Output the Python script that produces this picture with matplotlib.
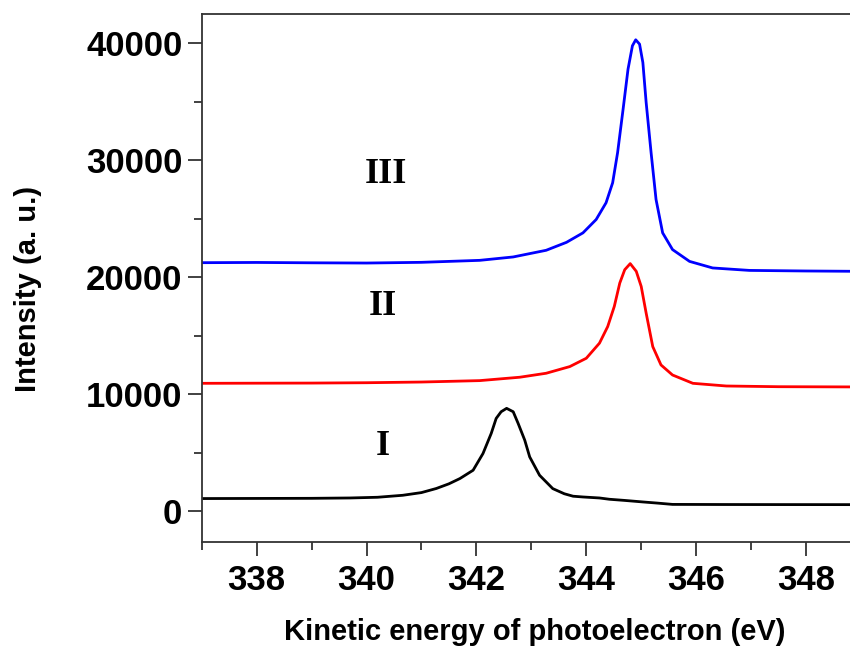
import numpy as np
import matplotlib.pyplot as plt
from matplotlib.ticker import MultipleLocator

# curve I (black)
x_1 = [337.0, 338.0, 339.0, 339.7, 340.2, 340.66, 341.0, 341.27, 341.5, 341.7, 341.94,
       342.12, 342.27, 342.36, 342.45, 342.55, 342.67, 342.76, 342.88, 342.97, 343.15,
       343.39, 343.6, 343.76, 343.94, 344.24, 344.42, 344.7, 345.03, 345.3, 345.57,
       346.5, 347.5, 349.0]
y_1 = [1090, 1100, 1110, 1140, 1200, 1370, 1600, 1950, 2350, 2800, 3510,
       4940, 6660, 7940, 8510, 8800, 8510, 7510, 6080, 4650, 3080,
       1940, 1500, 1290, 1225, 1140, 1030, 930, 800, 700, 590,
       580, 575, 570]

# curve II (red)
x_2 = [337.0, 338.0, 339.0, 340.0, 341.0, 342.06, 342.79, 343.27, 343.7, 344.0, 344.24,
       344.39, 344.51, 344.61, 344.7, 344.8, 344.91, 345.0, 345.09, 345.21, 345.36,
       345.57, 345.94, 346.55, 347.5, 349.0]
y_2 = [10940, 10950, 10960, 10990, 11050, 11170, 11460, 11800, 12370, 13080, 14370,
       15790, 17510, 19510, 20650, 21170, 20510, 19220, 16940, 14080, 12510,
       11650, 10940, 10710, 10650, 10630]

# curve III (blue)
x_3 = [337.0, 338.0, 339.0, 340.0, 341.0, 342.06, 342.67, 343.27, 343.64, 343.94, 344.18,
       344.36, 344.48, 344.57, 344.67, 344.76, 344.84, 344.9, 344.97, 345.03, 345.09,
       345.18, 345.27, 345.39, 345.57, 345.88, 346.3, 346.97, 348.0, 349.0]
y_3 = [21250, 21270, 21240, 21220, 21280, 21450, 21740, 22310, 22990, 23800, 24940,
       26370, 28080, 30650, 34360, 37790, 39790, 40300, 39930, 38360, 34940,
       30650, 26650, 23800, 22370, 21360, 20800, 20590, 20540, 20510]

labels = ["I", "II", "III"]
label_x = [340.3, 340.3, 340.35]
label_y = [4800, 16800, 28080]

sans = ["Liberation Sans", "DejaVu Sans"]
serif = ["Liberation Serif", "DejaVu Serif"]

fig = plt.figure(figsize=(8.5, 6.48), dpi=100)
ax = fig.add_axes([0.2373, 0.164, 0.7756, 0.8143])

ax.plot(x_1, y_1, color="black", lw=2)
ax.plot(x_2, y_2, color="red", lw=2)
ax.plot(x_3, y_3, color="blue", lw=2)

for t, tx, ty in zip(labels, label_x, label_y):
    ax.text(tx, ty, t, family=serif, fontweight="bold", fontsize=26,
            ha="center", va="baseline")

ax.set_xlim(337, 349)
ax.set_ylim(-2600, 42500)
ax.xaxis.set_major_locator(MultipleLocator(2))
ax.xaxis.set_minor_locator(MultipleLocator(1))
ax.yaxis.set_major_locator(MultipleLocator(10000))
ax.yaxis.set_minor_locator(MultipleLocator(5000))

for s in ax.spines.values():
    s.set_color("#333333")
    s.set_linewidth(1.3)
ax.spines["right"].set_visible(False)

ax.tick_params(which="major", direction="out", length=10, width=1.3, color="#333333")
ax.tick_params(which="minor", direction="out", length=6, width=1.3, color="#333333")
ax.tick_params(axis="x", pad=6)
ax.tick_params(axis="y", pad=4)
for lab in ax.get_xticklabels() + ax.get_yticklabels():
    lab.set_family(sans)
    lab.set_fontweight("bold")
    lab.set_fontsize(25)

ax.set_xlabel("Kinetic energy of photoelectron (eV)", family=sans,
              fontweight="bold", fontsize=21, va="center")
ax.set_ylabel("Intensity (a. u.)", family=sans, fontweight="bold",
              fontsize=21, va="center")
ax.xaxis.set_label_coords(0.5055, -0.171)
ax.yaxis.set_label_coords(-0.2635, 0.48)

fig.savefig("out.png", dpi=100)
